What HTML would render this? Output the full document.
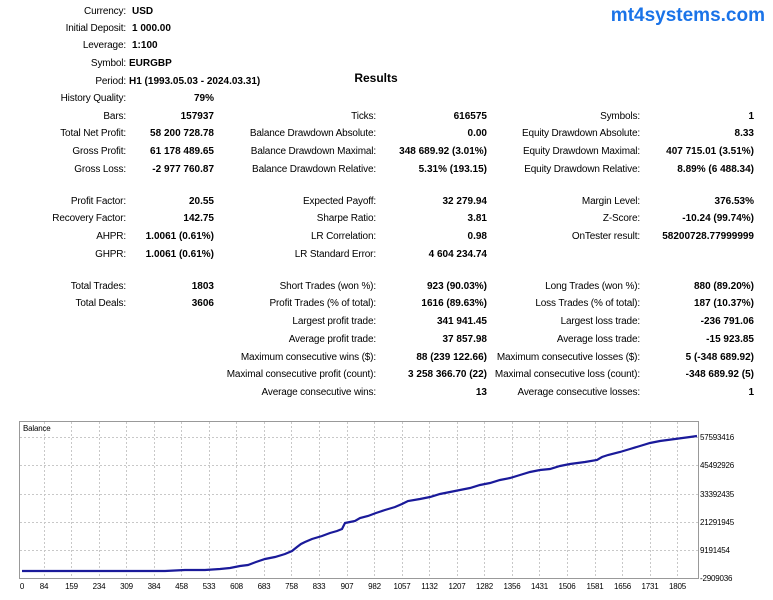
<!DOCTYPE html>
<html><head><meta charset="utf-8"><style>
html,body{margin:0;padding:0;background:#fff;}
svg{display:block;font-family:"Liberation Sans",sans-serif;}
.l{font-size:10px;letter-spacing:-0.15px;fill:#000;text-anchor:end;}
.v{font-size:10px;font-weight:bold;fill:#000;text-anchor:end;}
.h{font-size:10px;font-weight:bold;fill:#000;}
.t{font-size:8px;fill:#000;letter-spacing:-0.2px;}
</style></head><body>
<svg width="773" height="600" viewBox="0 0 773 600">
<text x="765" y="21" style="font-size:19px;font-weight:bold;fill:#1a73e8;text-anchor:end">mt4systems.com</text>
<text x="376" y="82" style="font-size:12px;font-weight:bold;text-anchor:middle">Results</text>
<g class="l">
<text x="126" y="14">Currency:</text>
<text x="126" y="31">Initial Deposit:</text>
<text x="126" y="48">Leverage:</text>
<text x="126" y="66">Symbol:</text>
<text x="126" y="84">Period:</text>
<text x="126" y="101">History Quality:</text>
<text x="126" y="119">Bars:</text>
<text x="126" y="136">Total Net Profit:</text>
<text x="126" y="154">Gross Profit:</text>
<text x="126" y="172">Gross Loss:</text>
<text x="126" y="204">Profit Factor:</text>
<text x="126" y="221">Recovery Factor:</text>
<text x="126" y="239">AHPR:</text>
<text x="126" y="257">GHPR:</text>
<text x="126" y="289">Total Trades:</text>
<text x="126" y="306">Total Deals:</text>
<text x="376" y="119">Ticks:</text>
<text x="376" y="136">Balance Drawdown Absolute:</text>
<text x="376" y="154">Balance Drawdown Maximal:</text>
<text x="376" y="172">Balance Drawdown Relative:</text>
<text x="376" y="204">Expected Payoff:</text>
<text x="376" y="221">Sharpe Ratio:</text>
<text x="376" y="239">LR Correlation:</text>
<text x="376" y="257">LR Standard Error:</text>
<text x="376" y="289">Short Trades (won %):</text>
<text x="376" y="306">Profit Trades (% of total):</text>
<text x="376" y="324">Largest profit trade:</text>
<text x="376" y="342">Average profit trade:</text>
<text x="376" y="360">Maximum consecutive wins ($):</text>
<text x="376" y="377">Maximal consecutive profit (count):</text>
<text x="376" y="395">Average consecutive wins:</text>
<text x="640" y="119">Symbols:</text>
<text x="640" y="136">Equity Drawdown Absolute:</text>
<text x="640" y="154">Equity Drawdown Maximal:</text>
<text x="640" y="172">Equity Drawdown Relative:</text>
<text x="640" y="204">Margin Level:</text>
<text x="640" y="221">Z-Score:</text>
<text x="640" y="239">OnTester result:</text>
<text x="640" y="289">Long Trades (won %):</text>
<text x="640" y="306">Loss Trades (% of total):</text>
<text x="640" y="324">Largest loss trade:</text>
<text x="640" y="342">Average loss trade:</text>
<text x="640" y="360">Maximum consecutive losses ($):</text>
<text x="640" y="377">Maximal consecutive loss (count):</text>
<text x="640" y="395">Average consecutive losses:</text>
</g>
<g class="h">
<text x="132" y="14">USD</text>
<text x="132" y="31">1 000.00</text>
<text x="132" y="48">1:100</text>
<text x="129" y="66">EURGBP</text>
<text x="129" y="84">H1 (1993.05.03 - 2024.03.31)</text>
</g>
<g class="v">
<text x="214" y="101">79%</text>
<text x="214" y="119">157937</text>
<text x="214" y="136">58 200 728.78</text>
<text x="214" y="154">61 178 489.65</text>
<text x="214" y="172">-2 977 760.87</text>
<text x="214" y="204">20.55</text>
<text x="214" y="221">142.75</text>
<text x="214" y="239">1.0061 (0.61%)</text>
<text x="214" y="257">1.0061 (0.61%)</text>
<text x="214" y="289">1803</text>
<text x="214" y="306">3606</text>
<text x="487" y="119">616575</text>
<text x="487" y="136">0.00</text>
<text x="487" y="154">348 689.92 (3.01%)</text>
<text x="487" y="172">5.31% (193.15)</text>
<text x="487" y="204">32 279.94</text>
<text x="487" y="221">3.81</text>
<text x="487" y="239">0.98</text>
<text x="487" y="257">4 604 234.74</text>
<text x="487" y="289">923 (90.03%)</text>
<text x="487" y="306">1616 (89.63%)</text>
<text x="487" y="324">341 941.45</text>
<text x="487" y="342">37 857.98</text>
<text x="487" y="360">88 (239 122.66)</text>
<text x="487" y="377">3 258 366.70 (22)</text>
<text x="487" y="395">13</text>
<text x="754" y="119">1</text>
<text x="754" y="136">8.33</text>
<text x="754" y="154">407 715.01 (3.51%)</text>
<text x="754" y="172">8.89% (6 488.34)</text>
<text x="754" y="204">376.53%</text>
<text x="754" y="221">-10.24 (99.74%)</text>
<text x="754" y="239">58200728.77999999</text>
<text x="754" y="289">880 (89.20%)</text>
<text x="754" y="306">187 (10.37%)</text>
<text x="754" y="324">-236 791.06</text>
<text x="754" y="342">-15 923.85</text>
<text x="754" y="360">5 (-348 689.92)</text>
<text x="754" y="377">-348 689.92 (5)</text>
<text x="754" y="395">1</text>
</g>
<!-- chart -->
<rect x="19.5" y="421.5" width="679" height="157" fill="#fff" stroke="#999"/>
<g stroke="#c8c8c8" stroke-dasharray="2,2" stroke-width="1">
<line x1="20" y1="437.5" x2="698" y2="437.5"/>
<line x1="20" y1="465.5" x2="698" y2="465.5"/>
<line x1="20" y1="494.5" x2="698" y2="494.5"/>
<line x1="20" y1="522.5" x2="698" y2="522.5"/>
<line x1="20" y1="550.5" x2="698" y2="550.5"/>
<line x1="44.5" y1="422" x2="44.5" y2="578"/><line x1="71.5" y1="422" x2="71.5" y2="578"/><line x1="99.5" y1="422" x2="99.5" y2="578"/><line x1="126.5" y1="422" x2="126.5" y2="578"/><line x1="154.5" y1="422" x2="154.5" y2="578"/><line x1="181.5" y1="422" x2="181.5" y2="578"/><line x1="209.5" y1="422" x2="209.5" y2="578"/><line x1="236.5" y1="422" x2="236.5" y2="578"/><line x1="264.5" y1="422" x2="264.5" y2="578"/><line x1="291.5" y1="422" x2="291.5" y2="578"/><line x1="319.5" y1="422" x2="319.5" y2="578"/><line x1="347.5" y1="422" x2="347.5" y2="578"/><line x1="374.5" y1="422" x2="374.5" y2="578"/><line x1="402.5" y1="422" x2="402.5" y2="578"/><line x1="429.5" y1="422" x2="429.5" y2="578"/><line x1="457.5" y1="422" x2="457.5" y2="578"/><line x1="484.5" y1="422" x2="484.5" y2="578"/><line x1="512.5" y1="422" x2="512.5" y2="578"/><line x1="539.5" y1="422" x2="539.5" y2="578"/><line x1="567.5" y1="422" x2="567.5" y2="578"/><line x1="595.5" y1="422" x2="595.5" y2="578"/><line x1="622.5" y1="422" x2="622.5" y2="578"/><line x1="650.5" y1="422" x2="650.5" y2="578"/><line x1="677.5" y1="422" x2="677.5" y2="578"/>
</g>
<text class="t" x="23" y="431">Balance</text>
<polyline fill="none" stroke="#1a1a9a" stroke-width="2.2" points="22,571 165,571 185,570 205,570 220,569 230,568 240,566 248,565 256,562 265,559 275,557 285,554 292,551 297,547 301,544 305,542 312,539 322,536 330,533 337,531 342,529 345,523 350,522 355,521 360,518 368,516 376,513 385,510 395,507 402,504 408,501 420,499 430,497 440,494 455,491 470,488 480,485 490,483 500,480 510,478 520,475 530,472 540,470 550,469 560,466 570,464 585,462 597,460 602,457 608,455 620,452 630,449 640,446 650,443 660,441 675,439 690,437 697,436"/>
<g class="t">
<text x="700" y="440">57593416</text>
<text x="700" y="468">45492926</text>
<text x="700" y="497">33392435</text>
<text x="700" y="525">21291945</text>
<text x="700" y="553">9191454</text>
<text x="700" y="581">-2909036</text>
</g>
<g class="t" style="text-anchor:middle">
<text x="22" y="589">0</text><text x="44" y="589">84</text><text x="71.5" y="589">159</text><text x="99" y="589">234</text><text x="126.5" y="589">309</text><text x="154" y="589">384</text><text x="181.5" y="589">458</text><text x="209" y="589">533</text><text x="236.5" y="589">608</text><text x="264" y="589">683</text><text x="291.5" y="589">758</text><text x="319" y="589">833</text><text x="347" y="589">907</text><text x="374.5" y="589">982</text><text x="402" y="589">1057</text><text x="429.5" y="589">1132</text><text x="457" y="589">1207</text><text x="484.5" y="589">1282</text><text x="512" y="589">1356</text><text x="539.5" y="589">1431</text><text x="567" y="589">1506</text><text x="595" y="589">1581</text><text x="622.5" y="589">1656</text><text x="650" y="589">1731</text><text x="677.5" y="589">1805</text>
</g>
</svg>
</body></html>
